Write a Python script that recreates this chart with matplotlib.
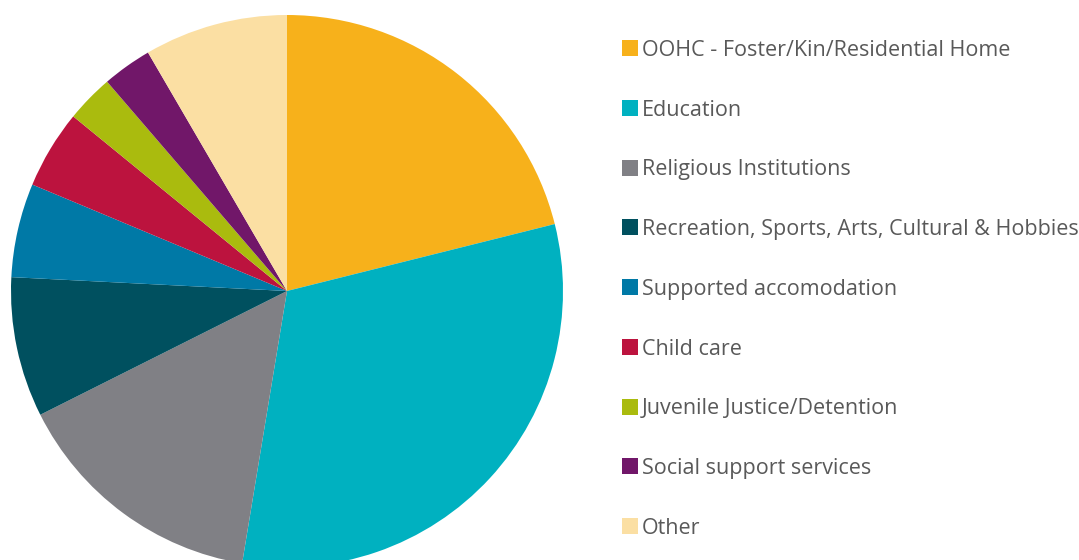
import matplotlib
matplotlib.use("Agg")
import matplotlib.pyplot as plt
from matplotlib.patches import Rectangle

categories = [
    "OOHC - Foster/Kin/Residential Home",
    "Education",
    "Religious Institutions",
    "Recreation, Sports, Arts, Cultural & Hobbies",
    "Supported accomodation",
    "Child care",
    "Juvenile Justice/Detention",
    "Social support services",
    "Other",
]
values = [21.1, 31.5, 15.0, 8.2, 5.5, 4.6, 2.8, 2.9, 8.4]
colors = ["#F7B11B", "#00B1C0", "#808085", "#00505F", "#0079A6",
          "#BC133E", "#AABB0E", "#711769", "#FBDFA3"]

plt.rcParams['font.family'] = ['Open Sans', 'DejaVu Sans']

W, H = 1079, 560
fig = plt.figure(figsize=(W / 100, H / 100), dpi=100)
cx, cy, r = 287, 291, 276
ax = fig.add_axes([(cx - r) / W, (H - cy - r) / H, 2 * r / W, 2 * r / H])
wedges, _ = ax.pie(values, colors=colors, startangle=90, counterclock=False,
                   radius=1, wedgeprops=dict(linewidth=0))
for w in wedges:
    w.set_clip_on(False)
ax.set_xlim(-1, 1)
ax.set_ylim(-1, 1)
ax.axis("off")

# legend drawn in figure pixel coordinates
first_y, step = 48, 59.75
box = 16
for i, (lab, col) in enumerate(zip(categories, colors)):
    y = H - (first_y + i * step)
    fig.patches.append(Rectangle((622 / W, (y - box / 2) / H), box / W, box / H,
                                 transform=fig.transFigure, facecolor=col,
                                 edgecolor="none"))
    fig.text(642 / W, y / H, lab, fontsize=15.5, color="#595959",
             va="center_baseline", ha="left")

fig.savefig("out.png", dpi=100)
